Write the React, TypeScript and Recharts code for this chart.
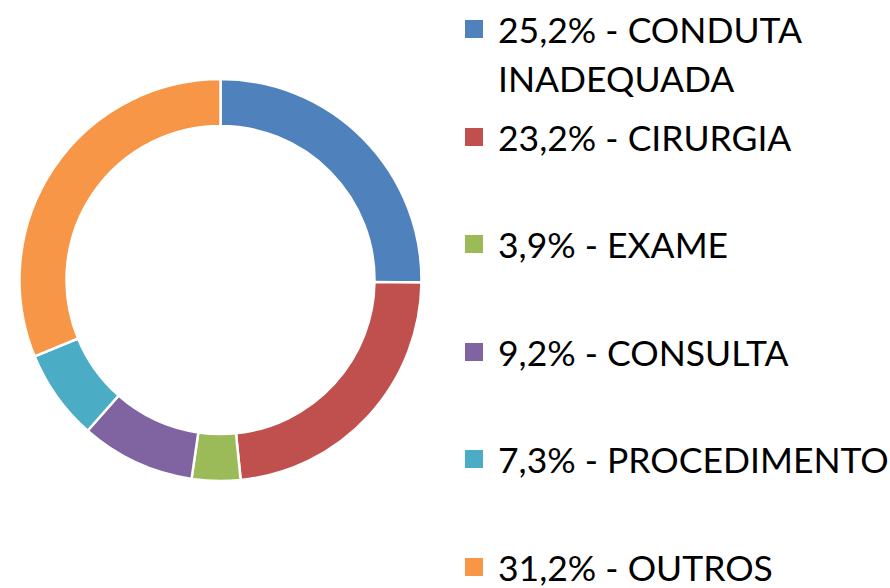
import { PieChart, Pie, Cell, Legend } from "recharts";

const categories = [
  "CONDUTA INADEQUADA",
  "CIRURGIA",
  "EXAME",
  "CONSULTA",
  "PROCEDIMENTO",
  "OUTROS",
];
const percents = [25.2, 23.2, 3.9, 9.2, 7.3, 31.2];
const colors = ["#4F81BD", "#C0504D", "#9BBB59", "#8064A2", "#4BACC6", "#F79646"];

const data = categories.map((name, i) => ({
  name: `${percents[i].toFixed(1).replace(".", ",")}% - ${name}`,
  value: percents[i],
}));

const FONT = "Lato, 'Open Sans', sans-serif";
const FONT_SIZE = 35.5;
const LINE_H = 49;
const BASELINE = 38; // baseline offset inside first line box
const ROW_STEP = 107.5;
const FIRST_BASELINE = 43;

// keep the series order (recharts sorts the legend payload)
const renderLegend = () => (
  <div style={{ position: "relative", width: 430, height: 588 }}>
    {data.map((d, i) => {
      const top = FIRST_BASELINE + i * ROW_STEP - BASELINE;
      return (
        <div key={d.name} style={{ position: "absolute", left: 0, top, width: 430 }}>
          <div
            style={{
              position: "absolute",
              left: 5,
              top: BASELINE - 23,
              width: 18,
              height: 18,
              background: colors[i],
            }}
          />
          <div
            style={{
              position: "absolute",
              left: 38,
              top: 0,
              width: 392,
              fontFamily: FONT,
              fontSize: FONT_SIZE,
              lineHeight: `${LINE_H}px`,
              color: "#000",
              textAlign: "left",
            }}
          >
            {d.name}
          </div>
        </div>
      );
    })}
  </div>
);

export default function App() {
  return (
    <div style={{ position: "absolute", left: 0, top: 0, background: "#fff" }}>
      <PieChart width={890} height={588} margin={{ top: 0, right: 0, bottom: 0, left: 0 }}>
        <Pie
          data={data}
          dataKey="value"
          nameKey="name"
          cx={220.5}
          cy={280}
          innerRadius={154}
          outerRadius={201}
          startAngle={90}
          endAngle={-270}
          stroke="#fff"
          strokeWidth={2.5}
          isAnimationActive={false}
        >
          {data.map((d, i) => (
            <Cell key={d.name} fill={colors[i]} />
          ))}
        </Pie>
        <Legend
          content={renderLegend}
          wrapperStyle={{ left: 460, top: 0, width: 430, height: 588 }}
        />
      </PieChart>
    </div>
  );
}
